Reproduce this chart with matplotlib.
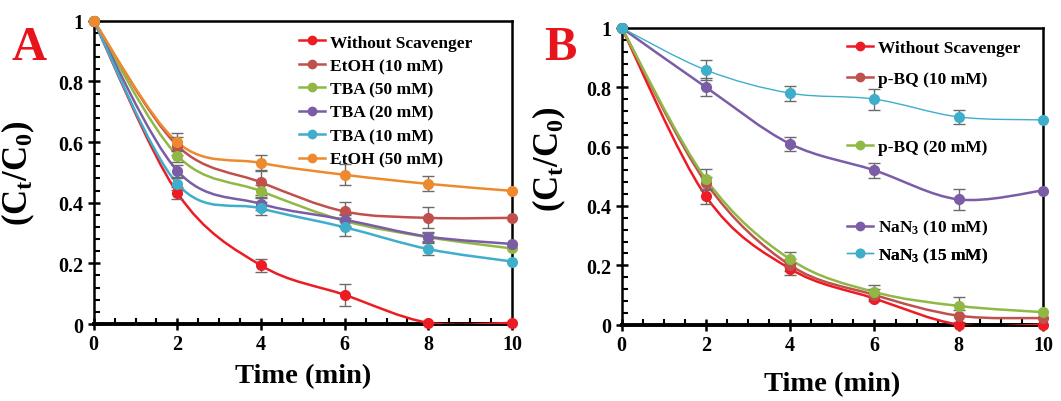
import numpy as np
import matplotlib
matplotlib.use('Agg')
import matplotlib.pyplot as plt
from matplotlib.path import Path
from matplotlib.patches import PathPatch
from matplotlib.lines import Line2D
from matplotlib.ticker import MultipleLocator

plt.rcParams['font.family'] = 'Liberation Serif'
plt.rcParams['font.weight'] = 'bold'
plt.rcParams['mathtext.fontset'] = 'custom'
plt.rcParams['mathtext.rm'] = 'Liberation Serif:bold'
plt.rcParams['mathtext.it'] = 'Liberation Serif:bold'
plt.rcParams['mathtext.bf'] = 'Liberation Serif:bold'

time_min = [0, 2, 4, 6, 8, 10]
x_ticks = [0, 2, 4, 6, 8, 10]
y_ticks = [0, 0.2, 0.4, 0.6, 0.8, 1.0]
y_tick_labels = ['0', '0.2', '0.4', '0.6', '0.8', '1']

# panel A
a_labels = ['Without Scavenger', 'EtOH (10 mM)', 'TBA (50 mM)',
            'TBA (20 mM)', 'TBA (10 mM)', 'EtOH (50 mM)']
a_without = [1.0, 0.432, 0.193, 0.096, 0.004, 0.004]
a_etoh10 = [1.0, 0.588, 0.467, 0.371, 0.350, 0.350]
a_tba50 = [1.0, 0.555, 0.438, 0.340, 0.286, 0.249]
a_tba20 = [1.0, 0.505, 0.396, 0.344, 0.288, 0.264]
a_tba10 = [1.0, 0.462, 0.381, 0.319, 0.247, 0.206]
a_etoh50 = [1.0, 0.599, 0.531, 0.492, 0.462, 0.439]
a_err_without = [0, 0.02, 0.02, 0.035, 0, 0]
a_err_etoh10 = [0, 0.03, 0.04, 0.03, 0.035, 0]
a_err_tba50 = [0, 0.02, 0.02, 0.02, 0.015, 0]
a_err_tba20 = [0, 0.02, 0.02, 0.02, 0.015, 0]
a_err_tba10 = [0, 0.02, 0.02, 0.03, 0.02, 0]
a_err_etoh50 = [0, 0.03, 0.025, 0.035, 0.025, 0]

# panel B
b_labels = ['Without Scavenger', 'p-BQ (10 mM)', 'p-BQ (20 mM)',
            'NaN$_3$ (10 mM)', 'NaN$_3$ (15 mM)']
b_without = [1.0, 0.432, 0.188, 0.088, 0.0, 0.0]
b_pbq10 = [1.0, 0.478, 0.200, 0.100, 0.030, 0.022]
b_pbq20 = [1.0, 0.490, 0.220, 0.110, 0.063, 0.042]
b_nan10 = [1.0, 0.800, 0.609, 0.520, 0.422, 0.452]
b_nan15 = [1.0, 0.858, 0.780, 0.760, 0.700, 0.690]
b_err_without = [0, 0.025, 0.02, 0.0, 0, 0]
b_err_pbq10 = [0, 0.02, 0.02, 0.02, 0.02, 0]
b_err_pbq20 = [0, 0.035, 0.025, 0.025, 0.03, 0]
b_err_nan10 = [0, 0.03, 0.025, 0.025, 0.035, 0]
b_err_nan15 = [0, 0.035, 0.025, 0.035, 0.025, 0]

RED = '#ED1C24'
BRICK = '#C0504D'
GREEN = '#8FB845'
PURPLE = '#7B5CA6'
CYAN = '#3EAECB'
ORANGE = '#EE8A2E'


def smooth_path(x, y):
    # excel-like smoothed line as cubic bezier segments
    pts = list(zip(x, y))
    n = len(pts)
    verts = [pts[0]]
    codes = [Path.MOVETO]
    for i in range(n - 1):
        p0 = pts[i - 1] if i > 0 else pts[i]
        p1 = pts[i]
        p2 = pts[i + 1]
        p3 = pts[i + 2] if i + 2 < n else pts[i + 1]
        c1 = (p1[0] + (p2[0] - p0[0]) / 6, p1[1] + (p2[1] - p0[1]) / 6)
        c2 = (p2[0] - (p3[0] - p1[0]) / 6, p2[1] - (p3[1] - p1[1]) / 6)
        verts += [c1, c2, p2]
        codes += [Path.CURVE4] * 3
    return Path(verts, codes)


def draw_series(ax, y, err, color, lw=1.8):
    ax.add_patch(PathPatch(smooth_path(time_min, y), fill=False,
                           edgecolor=color, lw=lw, zorder=3))
    xe = [t for t, e in zip(time_min, err) if e > 0]
    ye = [v for v, e in zip(y, err) if e > 0]
    ee = [e for e in err if e > 0]
    if ee:
        ax.errorbar(xe, ye, yerr=ee, fmt='none', ecolor='#6b6b6b',
                    elinewidth=1.0, capsize=4, capthick=1.0, zorder=4)
    ax.plot(time_min, y, 'o', color=color, ms=7, mec=color, zorder=5,
            clip_on=False)
    return Line2D([], [], color=color, lw=lw, marker='o', ms=6)


def style_axes(ax):
    ax.set_xlim(0, 10)
    ax.set_ylim(0, 1)
    ax.set_xticks(x_ticks)
    ax.set_yticks(y_ticks, labels=y_tick_labels)
    ax.xaxis.set_minor_locator(MultipleLocator(0.5))
    ax.yaxis.set_minor_locator(MultipleLocator(0.04))
    ax.tick_params(which='major', direction='inout', length=8, width=1.8,
                   labelsize=14.5, top=False, right=False)
    ax.tick_params(which='minor', direction='in', length=4, width=1.5,
                   top=False, right=False)
    for s in ['top', 'right', 'left']:
        ax.spines[s].set_linewidth(1.8)
    ax.spines['bottom'].set_linewidth(2.8)
    for lab in ax.get_xticklabels() + ax.get_yticklabels():
        lab.set_fontweight('bold')


fig = plt.figure(figsize=(10.61, 4.02), dpi=100)
axA = fig.add_axes([0.0883, 0.1915, 0.3943, 0.7545])
axB = fig.add_axes([0.586, 0.19, 0.397, 0.738])

hA = [
    draw_series(axA, a_without, a_err_without, RED),
    draw_series(axA, a_etoh10, a_err_etoh10, BRICK),
    draw_series(axA, a_tba50, a_err_tba50, GREEN),
    draw_series(axA, a_tba20, a_err_tba20, PURPLE),
    draw_series(axA, a_tba10, a_err_tba10, CYAN),
    draw_series(axA, a_etoh50, a_err_etoh50, ORANGE),
]
style_axes(axA)
axA.legend(hA, a_labels, loc='upper left', bbox_to_anchor=(0.49, 0.955),
           frameon=False, handlelength=1.5, handletextpad=0.3,
           labelspacing=0.42, borderpad=0, borderaxespad=0,
           prop={'weight': 'bold', 'size': 12.5})

hB = [
    draw_series(axB, b_without, b_err_without, RED),
    draw_series(axB, b_pbq10, b_err_pbq10, BRICK),
    draw_series(axB, b_pbq20, b_err_pbq20, GREEN),
    draw_series(axB, b_nan10, b_err_nan10, PURPLE),
    draw_series(axB, b_nan15, b_err_nan15, CYAN, lw=1.0),
]
style_axes(axB)
b_leg_y = [0.932, 0.828, 0.600, 0.327, 0.233]
for h, lab, yy in zip(hB, b_labels, b_leg_y):
    leg = axB.legend([h], [lab], loc='center left', bbox_to_anchor=(0.535, yy),
                     frameon=False, handlelength=1.5, handletextpad=0.3,
                     borderpad=0, borderaxespad=0,
                     prop={'weight': 'bold', 'size': 12.5})
    axB.add_artist(leg)

for ax, xl_y, yl_x, yl_y in [(axA, -0.13, -0.135, 0.5), (axB, -0.155, -0.128, 0.56)]:
    ax.set_xlabel('Time (min)', fontsize=20.5, fontweight='bold')
    ax.xaxis.set_label_coords(0.5, xl_y)
    ax.set_ylabel(r'$\mathbf{(C_t/C_0)}$', fontsize=25)
    ax.yaxis.set_label_coords(yl_x, yl_y)

fig.text(0.011, 0.851, 'A', color='#E8141B', fontsize=35, fontweight='bold',
         va='baseline')
fig.text(0.513, 0.851, 'B', color='#E8141B', fontsize=35, fontweight='bold',
         va='baseline')

fig.savefig('out.png', dpi=100)
